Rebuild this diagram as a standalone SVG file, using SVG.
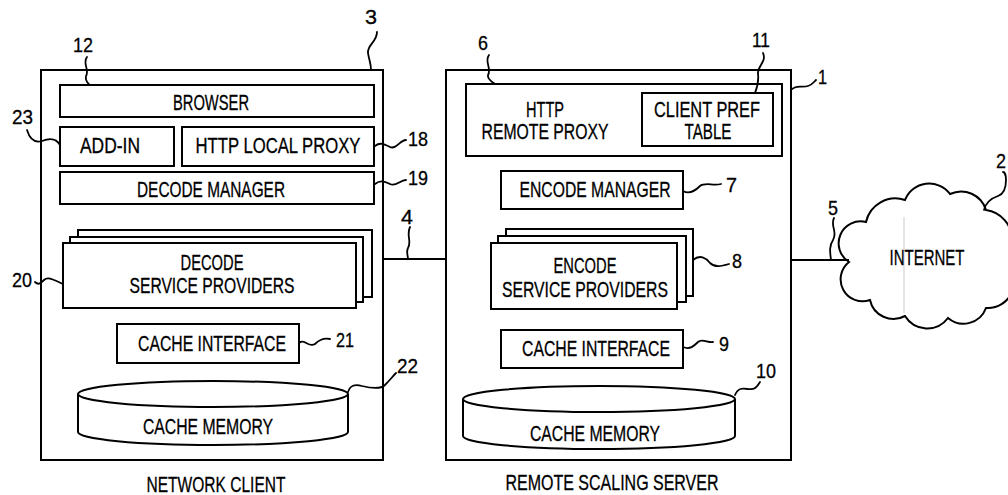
<svg xmlns="http://www.w3.org/2000/svg" width="1008" height="495" viewBox="0 0 1008 495">
  <style>
    .box { fill: #fff; stroke: #000; stroke-width: 2; }
    .lead { fill: none; stroke: #000; stroke-width: 1.8; stroke-linecap: round; }
    .wire { fill: none; stroke: #000; stroke-width: 2; }
    .t { font-family: "Liberation Sans", Arial, sans-serif; font-size: 21.5px; fill: #000; stroke: #000; stroke-width: 0.3; text-anchor: middle; }
    .n { font-family: "Liberation Sans", Arial, sans-serif; font-size: 21px; fill: #000; stroke: #000; stroke-width: 0.3; }
  </style>
  <rect width="1008" height="495" fill="#fff"/>

  <!-- network client (3) -->
  <g id="network-client">
    <rect class="box" x="41" y="70" width="342" height="390"/>
    <text class="t" x="216" y="492" textLength="139" lengthAdjust="spacingAndGlyphs">NETWORK CLIENT</text>
    <path class="lead" d="M377,32 C377,42 367,45 368,53 C369,60 371,63 371,70"/>
    <text class="n" x="365" y="24" textLength="12" lengthAdjust="spacingAndGlyphs">3</text>
  </g>

  <g id="browser">
    <rect class="box" x="60" y="85" width="314" height="32"/>
    <text class="t" x="211" y="110" textLength="76" lengthAdjust="spacingAndGlyphs">BROWSER</text>
    <path class="lead" d="M87,57 C82,64 90,70 86,76 C85,80 88,84 90,85"/>
    <text class="n" x="73" y="52" textLength="20" lengthAdjust="spacingAndGlyphs">12</text>
  </g>

  <g id="add-in">
    <rect class="box" x="60" y="127" width="114" height="39"/>
    <text class="t" x="110" y="153" textLength="60" lengthAdjust="spacingAndGlyphs">ADD-IN</text>
    <path class="lead" d="M27,130 C30,140 35,143 42,141 C50,138 56,138 60,145"/>
    <text class="n" x="12" y="124" textLength="21" lengthAdjust="spacingAndGlyphs">23</text>
  </g>

  <g id="http-local-proxy">
    <rect class="box" x="182" y="127" width="192" height="39"/>
    <text class="t" x="278" y="153" textLength="165" lengthAdjust="spacingAndGlyphs">HTTP LOCAL PROXY</text>
    <path class="lead" d="M375,146 C380,142 384,144 390,147 C396,150 400,140 406,140"/>
    <text class="n" x="408" y="146" textLength="20" lengthAdjust="spacingAndGlyphs">18</text>
  </g>

  <g id="decode-manager">
    <rect class="box" x="60" y="172" width="314" height="32"/>
    <text class="t" x="211" y="197" textLength="148" lengthAdjust="spacingAndGlyphs">DECODE MANAGER</text>
    <path class="lead" d="M375,184 C380,180 384,181 390,184 C396,187 400,180 406,180"/>
    <text class="n" x="408" y="185" textLength="20" lengthAdjust="spacingAndGlyphs">19</text>
  </g>

  <g id="decode-service-providers">
    <rect class="box" x="78" y="230" width="294" height="67"/>
    <rect class="box" x="70" y="237" width="293" height="65"/>
    <rect class="box" x="63" y="243" width="293" height="65"/>
    <text class="t" x="212" y="270" textLength="63" lengthAdjust="spacingAndGlyphs">DECODE</text>
    <text class="t" x="212" y="293" textLength="165" lengthAdjust="spacingAndGlyphs">SERVICE PROVIDERS</text>
    <path class="lead" d="M35,282 C38,285 40,284 44,280 C48,276 54,280 63,284"/>
    <text class="n" x="12" y="287" textLength="20" lengthAdjust="spacingAndGlyphs">20</text>
  </g>

  <g id="client-cache-interface">
    <rect class="box" x="117" y="324" width="182" height="39"/>
    <text class="t" x="212" y="351" textLength="148" lengthAdjust="spacingAndGlyphs">CACHE INTERFACE</text>
    <path class="lead" d="M299,343 C305,338 308,348 315,344 C319,340 325,338 330,339"/>
    <text class="n" x="336" y="347" textLength="18" lengthAdjust="spacingAndGlyphs">21</text>
  </g>

  <g id="client-cache-memory">
    <path class="box" d="M78,394 L78,432 A135,13 0 0 0 348,432 L348,394"/>
    <ellipse class="box" cx="213" cy="394" rx="135" ry="13"/>
    <text class="t" x="208" y="434" textLength="130" lengthAdjust="spacingAndGlyphs">CACHE MEMORY</text>
    <path class="lead" d="M348,392 C350,385 355,384 362,386 C370,388 380,390 385,385 C390,380 393,376 396,373"/>
    <text class="n" x="397" y="373" textLength="21" lengthAdjust="spacingAndGlyphs">22</text>
  </g>

  <!-- remote scaling server (1) -->
  <g id="remote-scaling-server">
    <rect class="box" x="446" y="70" width="345" height="390"/>
    <text class="t" x="612" y="490" textLength="213" lengthAdjust="spacingAndGlyphs">REMOTE SCALING SERVER</text>
    <path class="lead" d="M791,90 C796,84 802,88 808,86 C812,85 814,82 816,80"/>
    <text class="n" x="818" y="84" textLength="9" lengthAdjust="spacingAndGlyphs">1</text>
  </g>

  <g id="http-remote-proxy">
    <rect class="box" x="466" y="84" width="316" height="72"/>
    <text class="t" x="545" y="117" textLength="38" lengthAdjust="spacingAndGlyphs">HTTP</text>
    <text class="t" x="545" y="139" textLength="127" lengthAdjust="spacingAndGlyphs">REMOTE PROXY</text>
    <path class="lead" d="M489,55 C484,62 492,68 488,75 C487,79 492,82 495,84"/>
    <text class="n" x="478" y="50" textLength="10" lengthAdjust="spacingAndGlyphs">6</text>
  </g>

  <g id="client-pref-table">
    <rect class="box" x="642" y="93" width="131" height="53"/>
    <text class="t" x="707" y="117" textLength="106" lengthAdjust="spacingAndGlyphs">CLIENT PREF</text>
    <text class="t" x="708" y="139" textLength="47" lengthAdjust="spacingAndGlyphs">TABLE</text>
    <path class="lead" d="M763,53 C767,62 757,66 758,74 C759,82 757,88 755,93"/>
    <text class="n" x="752" y="47" textLength="18" lengthAdjust="spacingAndGlyphs">11</text>
  </g>

  <g id="encode-manager">
    <rect class="box" x="501" y="171" width="182" height="38"/>
    <text class="t" x="595" y="197" textLength="151" lengthAdjust="spacingAndGlyphs">ENCODE MANAGER</text>
    <path class="lead" d="M683,191 C690,195 696,190 700,186 C705,182 713,186 721,184"/>
    <text class="n" x="726" y="192" textLength="11" lengthAdjust="spacingAndGlyphs">7</text>
  </g>

  <g id="encode-service-providers">
    <rect class="box" x="506" y="229" width="187" height="67"/>
    <rect class="box" x="498" y="236" width="188" height="66"/>
    <rect class="box" x="491" y="243" width="186" height="66"/>
    <text class="t" x="585" y="273" textLength="63" lengthAdjust="spacingAndGlyphs">ENCODE</text>
    <text class="t" x="585" y="297" textLength="166" lengthAdjust="spacingAndGlyphs">SERVICE PROVIDERS</text>
    <path class="lead" d="M693,260 C700,254 706,258 710,263 C715,268 722,266 729,264"/>
    <text class="n" x="732" y="268" textLength="10" lengthAdjust="spacingAndGlyphs">8</text>
  </g>

  <g id="server-cache-interface">
    <rect class="box" x="501" y="330" width="182" height="38"/>
    <text class="t" x="596" y="356" textLength="148" lengthAdjust="spacingAndGlyphs">CACHE INTERFACE</text>
    <path class="lead" d="M683,347 C690,350 694,346 698,342 C702,338 708,343 713,342"/>
    <text class="n" x="719" y="351" textLength="10" lengthAdjust="spacingAndGlyphs">9</text>
  </g>

  <g id="server-cache-memory">
    <path class="box" d="M463,399 L463,436 A136,13 0 0 0 735,436 L735,399"/>
    <ellipse class="box" cx="599" cy="399" rx="136" ry="13"/>
    <text class="t" x="595" y="441" textLength="130" lengthAdjust="spacingAndGlyphs">CACHE MEMORY</text>
    <path class="lead" d="M735,395 C738,388 742,388 748,389 C755,390 757,387 760,382"/>
    <text class="n" x="756" y="378" textLength="20" lengthAdjust="spacingAndGlyphs">10</text>
  </g>

  <!-- internet cloud (2) -->
  <g id="internet">
    <path class="box" d="M849,262 A22,22 0 0 1 866,222 A30,30 0 0 1 905,200 A26,26 0 0 1 950,194 A26,26 0 0 1 986,210 A30,30 0 0 1 1012,240 L1012,292 A26,26 0 0 1 986,308 A24,24 0 0 1 948,318 A26,26 0 0 1 905,316 A24,24 0 0 1 870,300 A22,22 0 0 1 849,262 Z"/>
    <line x1="904" y1="217" x2="904" y2="313" stroke="#dcdcdc" stroke-width="1.5"/>
    <text class="t" x="927" y="265" textLength="75" lengthAdjust="spacingAndGlyphs">INTERNET</text>
    <path class="lead" d="M984,210 C986,202 992,198 998,196 C1004,194 1006,188 1006,180 C1006,174 1004,172 1003,172"/>
    <text class="n" x="996" y="168" textLength="10" lengthAdjust="spacingAndGlyphs">2</text>
  </g>

  <!-- links between client, server and internet -->
  <g id="connectors">
    <line class="wire" x1="383" y1="259" x2="446" y2="259"/>
    <path class="lead" d="M410,227 C406,235 412,242 408,248 C406,252 408,256 408,259"/>
    <text class="n" x="401" y="224" textLength="12" lengthAdjust="spacingAndGlyphs">4</text>
    <line class="wire" x1="791" y1="260" x2="849" y2="260"/>
    <path class="lead" d="M834,218 C830,226 838,232 833,240 C829,246 830,252 831,260"/>
    <text class="n" x="828" y="215" textLength="10" lengthAdjust="spacingAndGlyphs">5</text>
  </g>
</svg>
